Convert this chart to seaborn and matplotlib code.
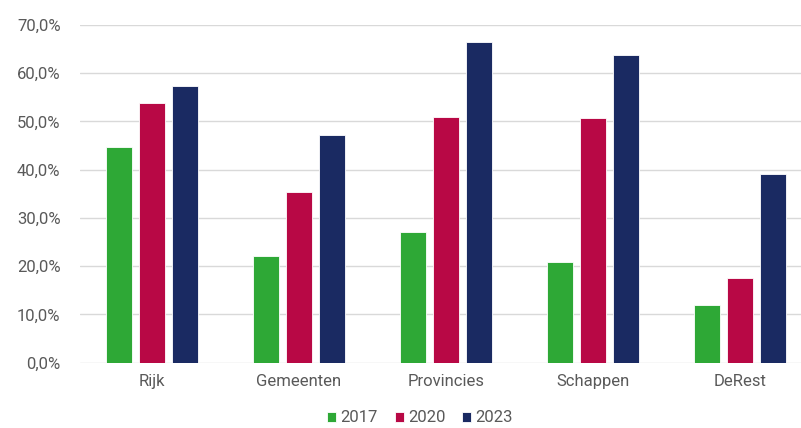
import pandas as pd
import matplotlib
matplotlib.use("Agg")
import matplotlib.pyplot as plt
import seaborn as sns
from matplotlib.ticker import FuncFormatter

# ---- data ----
categories = ["Rijk", "Gemeenten", "Provincies", "Schappen", "DeRest"]
years = ["2017", "2020", "2023"]
v2017 = [44.7, 22.1, 27.1, 20.8, 12.0]
v2020 = [53.8, 35.4, 50.9, 50.7, 17.6]
v2023 = [57.3, 47.1, 66.5, 63.7, 39.1]
colors = ["#2EA836", "#B80845", "#1A2A62"]

rows = []
for yr, vals in zip(years, [v2017, v2020, v2023]):
    for cat, v in zip(categories, vals):
        rows.append({"Categorie": cat, "Jaar": yr, "Waarde": v / 100})
df = pd.DataFrame(rows)

sns.set_theme(style="white")
plt.rcParams["font.family"] = ["Roboto", "DejaVu Sans"]
text_col = "#595959"

fig = plt.figure(figsize=(8.01, 4.28), dpi=100)
ax = fig.add_axes([80 / 801, 1 - 362.7 / 428, 721 / 801, (362.7 - 25) / 428])

sns.barplot(data=df, x="Categorie", y="Waarde", hue="Jaar", palette=colors,
            saturation=1, width=0.67, gap=0.21, edgecolor="white", linewidth=0.6, ax=ax)

ax.set_xlim(-0.49, 4.415)
ax.set_ylim(0, 0.7)
ax.set_yticks([i / 10 for i in range(8)])
ax.yaxis.set_major_formatter(FuncFormatter(lambda v, _: f"{v*100:.1f}%".replace(".", ",")))
ax.grid(axis="y", color="#D9D9D9", linewidth=1)
ax.set_axisbelow(True)
for s in ax.spines.values():
    s.set_visible(False)
ax.set_xlabel("")
ax.set_ylabel("")
ax.tick_params(axis="both", length=0, colors=text_col, labelsize=12)
ax.tick_params(axis="y", pad=14)
ax.tick_params(axis="x", pad=8)

handles, labels = ax.get_legend_handles_labels()
ax.legend(handles, labels, loc="center", bbox_to_anchor=(420 / 801, 10 / 428),
          bbox_transform=fig.transFigure, ncol=3, frameon=False, fontsize=12,
          handlelength=0.55, handleheight=0.55, handletextpad=0.25, columnspacing=1.0,
          labelcolor=text_col)

fig.savefig("out.png", dpi=100)
